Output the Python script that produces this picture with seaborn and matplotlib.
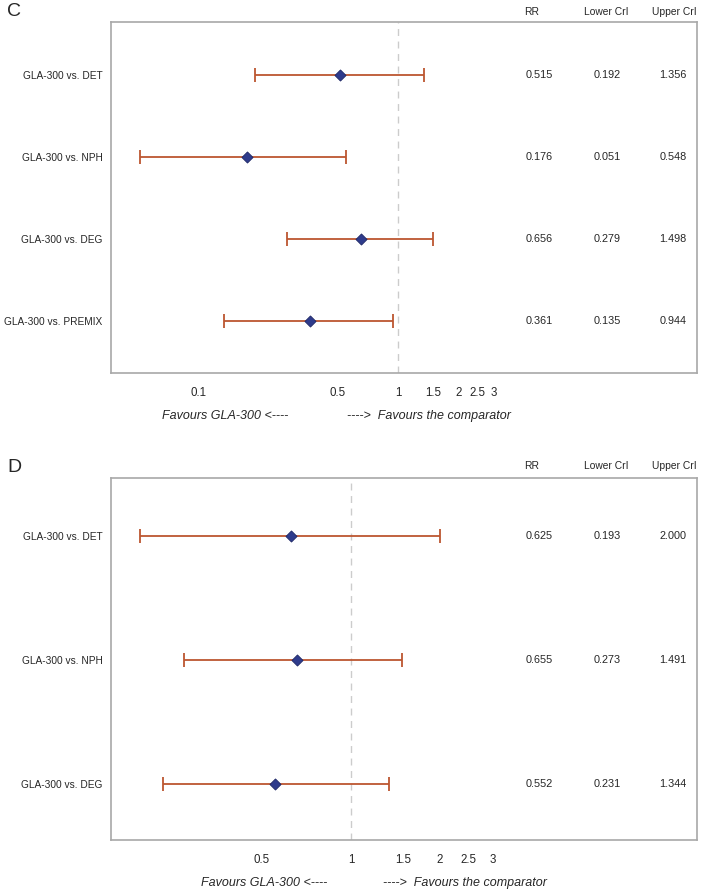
import numpy as np
import pandas as pd
import matplotlib
matplotlib.use("Agg")
import matplotlib.pyplot as plt
import seaborn as sns

# panel C : GLA-300 vs comparators
c_labels = ["GLA-300 vs. DET", "GLA-300 vs. NPH", "GLA-300 vs. DEG", "GLA-300 vs. PREMIX"]
c_rr = [0.515, 0.176, 0.656, 0.361]
c_lo = [0.192, 0.051, 0.279, 0.135]
c_hi = [1.356, 0.548, 1.498, 0.944]
c_ticks = [0.1, 0.5, 1, 1.5, 2, 2.5, 3]
c_ticklabels = ["0.1", "0.5", "1", "1.5", "2", "2.5", "3"]

# panel D
d_labels = ["GLA-300 vs. DET", "GLA-300 vs. NPH", "GLA-300 vs. DEG"]
d_rr = [0.625, 0.655, 0.552]
d_lo = [0.193, 0.273, 0.231]
d_hi = [2.000, 1.491, 1.344]
d_ticks = [0.5, 1, 1.5, 2, 2.5, 3]
d_ticklabels = ["0.5", "1", "1.5", "2", "2.5", "3"]

headers = ["RR", "Lower CrI", "Upper CrI"]

sns.set_style("white")
plt.rcParams["font.family"] = ["Liberation Sans", "DejaVu Sans"]

W, H = 701, 893
fig = plt.figure(figsize=(W / 100, H / 100), dpi=100)

bar_col = "#BC5630"
dot_col = "#2E3B8C"
frame_col = "#A8A8A8"
# centres of the RR / Lower / Upper columns, as axes fraction
head_x = [(532 - 111) / 586, (606 - 111) / 586, (674 - 111) / 586]
val_x = [(539 - 111) / 586, (607 - 111) / 586, (673 - 111) / 586]


def forest(rect, labels, rr, lo, hi, ticks, ticklabels, xlim, ygap,
           head_off, fav_pos):
    ax = fig.add_axes(rect)
    n = len(labels)
    df = pd.DataFrame({"label": labels, "rr": rr, "lo": lo, "hi": hi,
                       "pos": np.arange(n)})
    ax.set_xscale("log")
    ax.axvline(1, color="#CCCCCC", lw=1, ls=(0, (5, 4)), zorder=1)
    ax.errorbar(df["rr"], df["pos"],
                xerr=[df["rr"] - df["lo"], df["hi"] - df["rr"]],
                fmt="none", ecolor=bar_col, elinewidth=1.3, capsize=4.8,
                capthick=1.3, zorder=2)
    sns.scatterplot(data=df, x="rr", y="pos", marker="D", s=32, color=dot_col,
                    edgecolor="#1E2766", linewidth=0.6, zorder=3, ax=ax)
    ax.set_xlim(*xlim)
    ax.set_ylim(n - 1 + ygap[1], -ygap[0])
    ax.set_xticks(ticks)
    ax.set_xticklabels(ticklabels)
    ax.minorticks_off()
    ax.set_yticks(df["pos"])
    ax.set_yticklabels(labels)
    ax.tick_params(axis="x", length=4, width=0.8, color=frame_col, pad=6,
                   labelsize=8.3)
    ax.tick_params(axis="y", length=0, pad=6, labelsize=7.3)
    ax.set_xlabel("")
    ax.set_ylabel("")
    for sp in ax.spines.values():
        sp.set_color(frame_col)
        sp.set_linewidth(1.2)

    # table columns inside the frame
    for cx, h in zip(head_x, headers):
        ax.annotate(h, xy=(cx, 1), xycoords="axes fraction",
                    xytext=(0, head_off), textcoords="offset points",
                    ha="center", va="center", fontsize=7.4)
    trans = ax.get_yaxis_transform()
    for i, row in df.iterrows():
        for cx, v in zip(val_x, [row["rr"], row["lo"], row["hi"]]):
            ax.text(cx, row["pos"], f"{v:.3f}", transform=trans,
                    ha="center", va="center", fontsize=7.8)

    ax.annotate("Favours GLA-300 <----", xy=(fav_pos[0], 0),
                xycoords="axes fraction", xytext=(0, -31),
                textcoords="offset points", ha="right", va="center",
                fontsize=9, style="italic")
    ax.annotate("---->  Favours the comparator", xy=(fav_pos[1], 0),
                xycoords="axes fraction", xytext=(0, -31),
                textcoords="offset points", ha="left", va="center",
                fontsize=9, style="italic")
    return ax


axc = forest([111 / W, 1 - 373 / H, 586 / W, 351 / H],
             c_labels, c_rr, c_lo, c_hi, c_ticks, c_ticklabels,
             (0.0367, 31.3), (0.64, 0.63), 7.5, (0.302, 0.403))
axd = forest([111 / W, 1 - 840 / H, 586 / W, 362 / H],
             d_labels, d_rr, d_lo, d_hi, d_ticks, d_ticklabels,
             (0.1546, 14.75), (0.47, 0.45), 8.5, (0.369, 0.464))

fig.text(7 / W, 1 - 12 / H, "C", fontsize=14, ha="left", va="center")
fig.text(7 / W, 1 - 467 / H, "D", fontsize=14, ha="left", va="center")

fig.savefig("out.png", dpi=100)
